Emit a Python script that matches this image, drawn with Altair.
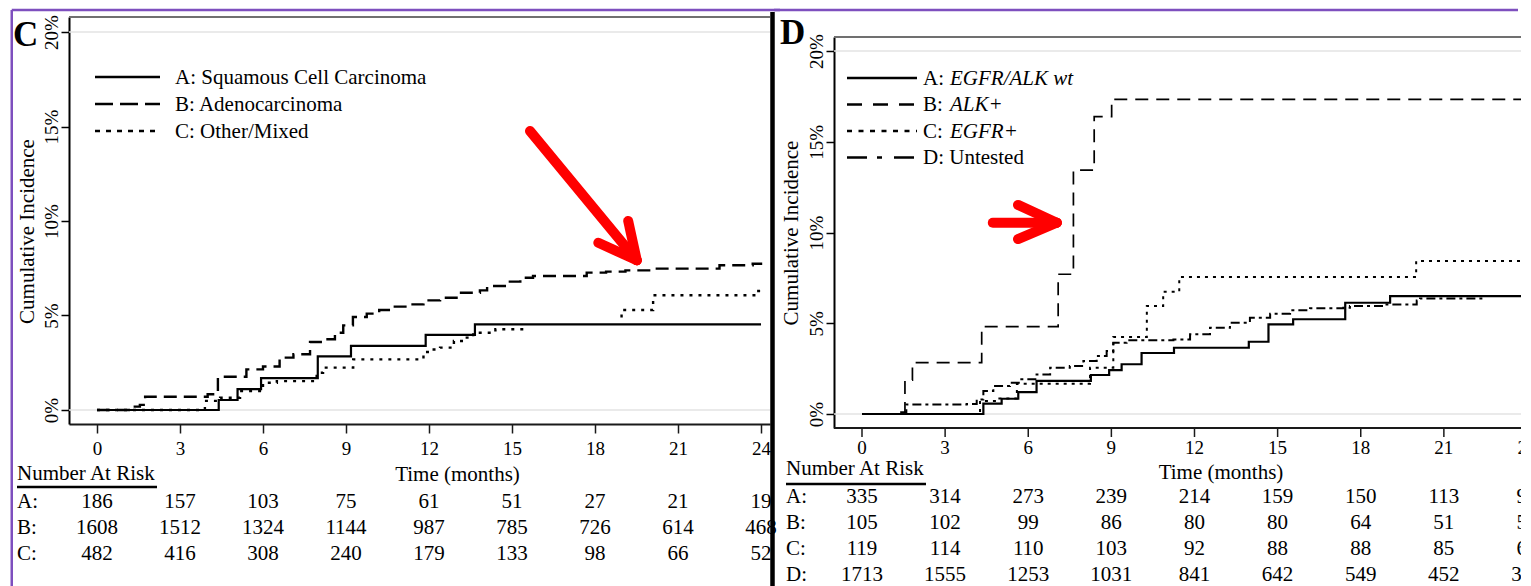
import altair as alt
import pandas as pd

FONT = "Liberation Serif"
PURPLE = "#7e4fbe"
RED = "#ff0000"
GRID = "#e3e3e3"
FRAME = "#707070"
AXIS = "#1a1a1a"

time_ticks = [0, 3, 6, 9, 12, 15, 18, 21, 24]
pct_ticks = [0, 5, 10, 15, 20]

# ---------------- Panel C : histology ----------------
c_legend = ["A: Squamous Cell Carcinoma", "B: Adenocarcinoma", "C: Other/Mixed"]

c_sq_t = [0, 4.4, 5.08, 5.93, 7.98, 9.18, 11.88, 13.66, 24.0]
c_sq_y = [0, 0.53, 1.10, 1.69, 2.84, 3.39, 3.97, 4.53, 4.53]

c_ad_t = [0, 1.3, 1.55, 1.74, 4.0, 4.37, 5.4, 6.0, 6.6, 7.1, 7.7, 8.2, 8.6, 8.9, 9.25,
          9.75, 10.2, 10.6, 11.2, 11.8, 12.4, 13.1, 13.84, 14.1, 14.8, 15.3, 15.76,
          17.7, 18.4, 19.1, 20.0, 22.5, 23.7, 24.0]
c_ad_y = [0, 0.18, 0.27, 0.70, 0.83, 1.76, 2.15, 2.30, 2.77, 2.95, 3.60, 3.74, 4.09, 4.48,
          4.92, 5.10, 5.29, 5.47, 5.59, 5.80, 5.94, 6.20, 6.33, 6.56, 6.79, 7.00, 7.09,
          7.27, 7.32, 7.39, 7.48, 7.66, 7.74, 7.80]

c_ot1_t = [0, 3.9, 4.45, 5.17, 6.0, 6.5, 7.94, 8.17, 9.26, 11.8, 12.0, 12.4, 12.9, 13.3,
           13.6, 14.4, 15.6]
c_ot1_y = [0, 0.48, 0.65, 1.00, 1.44, 1.53, 1.97, 2.24, 2.68, 3.07, 3.20, 3.30, 3.65,
           3.83, 4.09, 4.27, 4.27]
c_ot2_t = [18.96, 18.96, 20.1, 23.8, 24.0]
c_ot2_y = [4.90, 5.29, 6.07, 6.30, 6.35]

c_risk_rows = ["A:", "B:", "C:"]
c_risk_A = [186, 157, 103, 75, 61, 51, 27, 21, 19]
c_risk_B = [1608, 1512, 1324, 1144, 987, 785, 726, 614, 468]
c_risk_C = [482, 416, 308, 240, 179, 133, 98, 66, 52]

# arrow (time, percent): shaft start and wing ends -> tip
c_arrow_t0 = [15.65, 18.12, 19.20]
c_arrow_p0 = [14.76, 8.85, 10.00]
c_arrow_t1 = [19.51, 19.51, 19.51]
c_arrow_p1 = [7.92, 7.92, 7.92]

# ---------------- Panel D : molecular status ----------------
d_legend_prefix = ["A:", "B:", "C:", "D: Untested"]
d_legend_italic = ["EGFR/ALK wt", "ALK+", "EGFR+", ""]

d_wt_t = [0, 4.38, 5.04, 5.64, 6.3, 8.26, 8.92, 9.37, 10.09, 11.26, 13.96, 14.67, 15.56,
          17.44, 19.06, 23.93]
d_wt_y = [0, 0.57, 0.84, 1.21, 1.82, 2.15, 2.42, 2.74, 3.36, 3.65, 3.98, 4.94, 5.22,
          6.13, 6.50, 6.50]

d_alk_t = [0, 1.55, 1.82, 4.32, 7.08, 7.63, 8.38, 9.01, 23.8]
d_alk_y = [0, 1.87, 2.83, 4.81, 7.70, 13.44, 16.38, 17.34, 17.34]

d_egfr_t = [0, 4.26, 4.86, 5.59, 8.23, 9.07, 10.28, 10.87, 11.45, 20.0, 24.0]
d_egfr_y = [0, 0.72, 0.86, 1.67, 2.55, 4.24, 5.95, 6.74, 7.55, 8.43, 8.43]

d_unt_t = [0, 1.3, 1.6, 3.78, 4.14, 4.38, 4.74, 5.34, 5.7, 6.3, 6.79, 7.5, 7.99, 8.47,
           8.83, 9.07, 9.55, 11.24, 11.84, 12.56, 13.28, 14.0, 14.73, 15.45, 16.17,
           17.37, 17.61, 18.93, 20.02, 20.14, 22.5]
d_unt_y = [0, 0.10, 0.53, 0.55, 0.80, 1.27, 1.54, 1.72, 1.91, 2.18, 2.55, 2.64, 2.92,
           3.20, 3.47, 3.93, 4.06, 4.11, 4.39, 4.75, 5.03, 5.30, 5.53, 5.71, 5.82, 5.86,
           5.95, 6.04, 6.26, 6.37, 6.37]

d_risk_rows = ["A:", "B:", "C:", "D:"]
d_risk_A = [335, 314, 273, 239, 214, 159, 150, 113, 90]
d_risk_B = [105, 102, 99, 86, 80, 80, 64, 51, 51]
d_risk_C = [119, 114, 110, 103, 92, 88, 88, 85, 65]
d_risk_D = [1713, 1555, 1253, 1031, 841, 642, 549, 452, 353]

d_arrow_t0 = [4.72, 5.63, 5.63]
d_arrow_p0 = [10.54, 11.52, 9.64]
d_arrow_t1 = [7.03, 7.03, 7.03]
d_arrow_p1 = [10.54, 10.54, 10.54]

ONE = pd.DataFrame({"k": [0]})


def steps(ts, ys):
    return pd.DataFrame({"t": ts, "pct": ys, "i": list(range(len(ts)))})


def build_panel(s):
    W, H = s["W"], s["H"]
    clip = s.get("clip", False)
    manual_x = s.get("manual_x")

    def ck(kw):
        if clip:
            kw["clip"] = True
        return kw

    xs_kw = dict(domain=s["xdom"], nice=False, zero=False)
    ys_kw = dict(domain=s["ydom"], nice=False, zero=False)
    if "xrange" in s:
        xs_kw["range"] = s["xrange"]
    if "yrange" in s:
        ys_kw["range"] = s["yrange"]
    xscale = alt.Scale(**xs_kw)
    yscale = alt.Scale(**ys_kw)

    if manual_x:
        xaxis = None
    else:
        xaxis = alt.Axis(values=time_ticks, format="d", grid=False,
                         domainColor=AXIS, domainWidth=2, tickColor=AXIS,
                         tickWidth=1.5, tickSize=9, labelFont=FONT, labelFontSize=19,
                         labelColor="black", labelBaseline="alphabetic",
                         labelPadding=s["xlabpad"], labelFlush=False, labelOverlap=False,
                         title="Time (months)", titleFont=FONT, titleFontSize=21,
                         titleFontWeight="normal", titleColor="black",
                         titleX=s["xtitle"][0], titleY=s["xtitle"][1],
                         titleAlign="center", titleBaseline="alphabetic")
    yaxis = alt.Axis(values=pct_ticks, labelExpr="datum.value + '%'", grid=False,
                     domainColor="black", domainWidth=2, tickColor="black",
                     tickWidth=1.5, tickSize=8, labelFont=FONT, labelFontSize=19,
                     labelColor="black", labelAngle=270, labelAlign="center",
                     labelBaseline="alphabetic", labelPadding=4, labelFlush=False,
                     labelOverlap=False, title="Cumulative Incidence", titleFont=FONT,
                     titleFontSize=21, titleFontWeight="normal", titleColor="black",
                     titleAngle=270, titleX=s["ytitle"][0], titleY=s["ytitle"][1],
                     titleAlign="center", titleBaseline="alphabetic")

    def X(f):
        if xaxis is None:
            return alt.X(f, type="quantitative", scale=xscale, axis=None)
        return alt.X(f, type="quantitative", scale=xscale, axis=xaxis)

    def Y(f):
        return alt.Y(f, type="quantitative", scale=yscale, axis=yaxis)

    top = s["plot_top"]
    layers = []
    # light grid lines at 0% and 20%
    layers.append(alt.Chart(pd.DataFrame({"pct": [0, 20]})).mark_rule(
        **ck(dict(color=GRID, strokeWidth=1.5))).encode(
        y=Y("pct"), x=alt.value(0), x2=alt.value(W)))
    # top frame of plot region
    layers.append(alt.Chart(ONE).mark_rule(**ck(dict(color=FRAME, strokeWidth=2))).encode(
        x=alt.value(0), x2=alt.value(W), y=alt.value(top)))

    # manual x axis (lets the panel be cut at the right edge like the original)
    if manual_x:
        ay, lab_y, tx, ty = manual_x
        layers.append(alt.Chart(ONE).mark_rule(**ck(dict(color=AXIS, strokeWidth=2))).encode(
            x=alt.value(0), x2=alt.value(W), y=alt.value(ay)))
        tdf = pd.DataFrame({"t": time_ticks, "lab": [str(v) for v in time_ticks]})
        layers.append(alt.Chart(tdf).mark_rule(**ck(dict(color=AXIS, strokeWidth=1.5))).encode(
            x=X("t"), y=alt.value(ay), y2=alt.value(ay + 9)))
        layers.append(alt.Chart(tdf).mark_text(**ck(dict(
            font=FONT, fontSize=19, align="center", baseline="alphabetic",
            color="black"))).encode(x=X("t"), y=alt.value(lab_y), text="lab:N"))
        layers.append(alt.Chart(ONE).mark_text(**ck(dict(
            text="Time (months)", font=FONT, fontSize=21, align="center",
            baseline="alphabetic", color="black"))).encode(
            x=alt.value(tx), y=alt.value(ty)))

    # step curves
    for (ts, ys, w, dash) in s["series"]:
        kw = dict(interpolate="step-after", color="black", strokeWidth=w)
        if dash:
            kw["strokeDash"] = dash
        layers.append(alt.Chart(steps(ts, ys)).mark_line(**ck(kw)).encode(
            x=X("t"), y=Y("pct"), order="i:Q"))
    if s.get("endmark"):
        ts, ys = s["endmark"]
        layers.append(alt.Chart(pd.DataFrame({"t": [ts[-1]], "pct": [ys[-1]]})).mark_square(
            **ck(dict(size=30, color="black", opacity=1))).encode(x=X("t"), y=Y("pct")))

    # legend
    lg = s["legend"]
    for i, (dash, w) in enumerate(lg["styles"]):
        kw = dict(color="black", strokeWidth=w)
        if dash:
            kw["strokeDash"] = dash
        layers.append(alt.Chart(ONE).mark_rule(**kw).encode(
            x=alt.value(lg["x0"]), x2=alt.value(lg["x1"]), y=alt.value(lg["ly"][i])))
        layers.append(alt.Chart(ONE).mark_text(
            text=lg["prefix"][i], font=FONT, fontSize=21, align="left",
            baseline="alphabetic", color="black").encode(
            x=alt.value(lg["tx"]), y=alt.value(lg["tb"][i])))
        if lg["italic"][i]:
            layers.append(alt.Chart(ONE).mark_text(
                text=lg["italic"][i], font=FONT, fontSize=21, fontStyle="italic",
                align="left", baseline="alphabetic", color="black").encode(
                x=alt.value(lg["ix"]), y=alt.value(lg["tb"][i])))

    # number at risk table
    tb = s["table"]
    layers.append(alt.Chart(ONE).mark_text(
        text="Number At Risk", font=FONT, fontSize=21, align="left",
        baseline="alphabetic", color="black").encode(
        x=alt.value(tb["x"]), y=alt.value(tb["head"])))
    layers.append(alt.Chart(ONE).mark_rule(color="black", strokeWidth=2.5).encode(
        x=alt.value(tb["x"]), x2=alt.value(tb["ux"]), y=alt.value(tb["uy"])))
    for i, (lab, vals) in enumerate(zip(tb["rows"], tb["values"])):
        layers.append(alt.Chart(ONE).mark_text(
            text=lab, font=FONT, fontSize=21, align="left", baseline="alphabetic",
            color="black").encode(x=alt.value(tb["x"]), y=alt.value(tb["base"][i])))
        df = pd.DataFrame({"t": time_ticks, "n": [str(v) for v in vals]})
        layers.append(alt.Chart(df).mark_text(**ck(dict(
            font=FONT, fontSize=21, align="center", baseline="alphabetic",
            color="black"))).encode(x=X("t"), y=alt.value(tb["base"][i]), text="n:N"))

    # red arrow
    t0, p0, t1, p1 = s["arrow"]
    adf = pd.DataFrame({"t": t0, "pct": p0, "t1": t1, "p1": p1})
    layers.append(alt.Chart(adf).mark_rule(color=RED, strokeWidth=10, strokeCap="round").encode(
        x=X("t"), y=Y("pct"), x2="t1:Q", y2="p1:Q"))

    # panel letter
    lx, ly = s["letter_pos"]
    layers.append(alt.Chart(ONE).mark_text(
        text=s["letter"], font=FONT, fontSize=35, fontWeight="bold", align="left",
        baseline="alphabetic", color="black").encode(x=alt.value(lx), y=alt.value(ly)))

    # figure borders
    for (x0, x1, y0, y1, col, w) in s["borders"]:
        if x1 is None:
            enc = dict(x=alt.value(x0), y=alt.value(y0), y2=alt.value(y1))
        else:
            enc = dict(x=alt.value(x0), x2=alt.value(x1), y=alt.value(y0))
        layers.append(alt.Chart(ONE).mark_rule(color=col, strokeWidth=w).encode(**enc))

    return alt.layer(*layers).properties(width=W, height=H)


panel_c = build_panel(dict(
    W=701, H=407, xdom=[-1.012, 24.325], ydom=[-0.741, 20.794], plot_top=0,
    xlabpad=21.5, xtitle=(388, 56), ytitle=(-36, 214),
    series=[(c_sq_t, c_sq_y, 2.2, None),
            (c_ad_t, c_ad_y, 2.4, [13, 7]),
            (c_ot1_t, c_ot1_y, 2.4, [3, 6]),
            (c_ot2_t, c_ot2_y, 2.4, [3, 6])],
    legend=dict(styles=[(None, 2.5), ([18, 7], 2.5), ([5, 6], 2.5)],
                x0=26, x1=91, ly=[60, 87, 114], tx=106, ix=106,
                tb=[67, 94, 121], prefix=c_legend, italic=["", "", ""]),
    table=dict(x=-52, head=463, ux=88, uy=470, rows=c_risk_rows,
               values=[c_risk_A, c_risk_B, c_risk_C], base=[491, 517, 543]),
    arrow=(c_arrow_t0, c_arrow_p0, c_arrow_t1, c_arrow_p1),
    letter="C", letter_pos=(-56, 29),
    borders=[(-57.25, None, -7, 580, PURPLE, 2.5),
             (-57.25, 711, -7, None, PURPLE, 2.5)],
))

# panel D: view starts at the same page height as panel C (plot frame 20 px lower)
D_W = 687
panel_d = build_panel(dict(
    W=D_W, H=570, xdom=[-1.0105, 24.325], ydom=[-0.771, 20.771],
    xrange=[0, 702], yrange=[411, 20], plot_top=20, clip=True,
    manual_x=(411, 436.5, 387, 462),
    ytitle=(-37, 215.5),
    series=[(d_wt_t, d_wt_y, 2.2, None),
            (d_alk_t, d_alk_y, 1.7, [13, 8]),
            (d_egfr_t, d_egfr_y, 2.0, [3, 5]),
            (d_unt_t, d_unt_y, 2.0, [9, 4, 3, 4])],
    endmark=(d_wt_t, d_wt_y),
    legend=dict(styles=[(None, 2.5), ([15, 11], 2.5), ([5, 6.5], 2.5), ([20, 10, 5, 12], 2.5)],
                x0=13, x1=83, ly=[61, 87.5, 114, 140.5], tx=89, ix=116,
                tb=[67.5, 94, 120.5, 147], prefix=d_legend_prefix, italic=d_legend_italic),
    table=dict(x=-48, head=458, ux=92, uy=467, rows=d_risk_rows,
               values=[d_risk_A, d_risk_B, d_risk_C, d_risk_D], base=[486, 512, 538, 564]),
    arrow=(d_arrow_t0, d_arrow_p0, d_arrow_t1, d_arrow_p1),
    letter="D", letter_pos=(-54, 27),
    borders=[(-60, D_W - 3, -7, None, PURPLE, 2.5),
             (-61.5, None, -5, 580, "black", 4.5)],
))

chart = alt.hconcat(panel_c, panel_d, spacing=-13).properties(
    padding={"left": 2, "top": 0, "right": 0, "bottom": 0}
).configure_view(stroke="transparent")

chart.save("out.html", embed_options={"renderer": "svg", "actions": False})
